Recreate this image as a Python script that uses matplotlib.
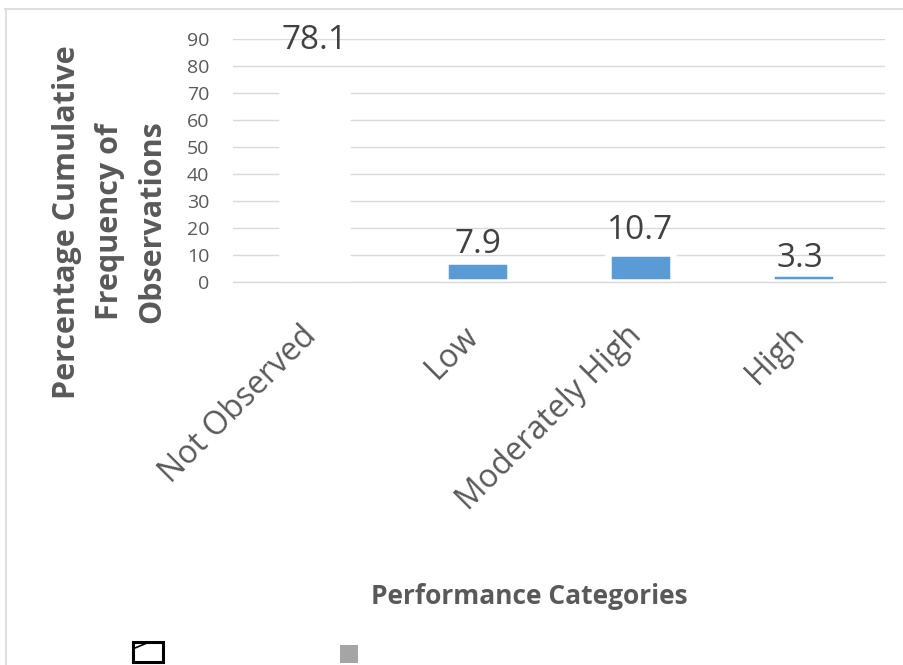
import matplotlib
matplotlib.use("Agg")
import matplotlib.pyplot as plt
from matplotlib.patches import Rectangle
from matplotlib.lines import Line2D
from matplotlib.transforms import ScaledTranslation

# data
categories = ["Not Observed", "Low", "Moderately High", "High"]
percentages = [78.1, 7.9, 10.7, 3.3]
y_ticks = [0, 10, 20, 30, 40, 50, 60, 70, 80, 90]

W, H = 904, 665
plt.rcParams['font.family'] = ['Open Sans', 'DejaVu Sans']

fig = plt.figure(figsize=(W / 100, H / 100), dpi=100)
fig.patch.set_facecolor('white')


def fx(px):
    return px / W


def fy(py):
    return 1 - py / H


# plot area
ax = fig.add_axes([fx(233), fy(282), fx(885) - fx(233), fy(39) - fy(282)])
ax.set_facecolor('white')
ax.set_axisbelow(True)

# first bar is white in the original, the rest blue; white edges make them look inset
bar_colors = ['white', '#5B9BD5', '#5B9BD5', '#5B9BD5']
x = list(range(len(categories)))
ax.bar(x, percentages, width=0.4, color=bar_colors, edgecolor='white',
       linewidth=4.7, zorder=1)

# data labels (offsets in pixels, as placed in the source chart)
label_offsets = [(0, 22), (0, 8), (0, 14), (-3, 6)]
for xi, v, off in zip(x, percentages, label_offsets):
    ax.annotate(f"{v}", (xi, v), xytext=off, textcoords='offset pixels',
                ha='center', va='baseline', fontsize=24, color='#404040')

ax.set_xlim(-0.5, 3.5)
ax.set_ylim(0, 90)
ax.set_yticks(y_ticks)
ax.yaxis.grid(True, color='#D9D9D9', linewidth=1.0)
ax.tick_params(axis='y', length=0, pad=17, labelsize=14, labelcolor='#595959')
ax.tick_params(axis='x', length=0, pad=27)

ax.set_xticks(x)
ax.set_xticklabels(categories, rotation=45, ha='right', va='top',
                   fontsize=23, color='#595959')
for lbl in ax.get_xticklabels():
    lbl.set_transform(lbl.get_transform() + ScaledTranslation(6 / 72, 0, fig.dpi_scale_trans))

for side in ['left', 'right', 'top']:
    ax.spines[side].set_visible(False)
ax.spines['bottom'].set_color('#D9D9D9')
ax.spines['bottom'].set_linewidth(1.0)
ax.spines['bottom'].set_zorder(3)

# axis titles
fig.text(fx(110), fy(222), "Percentage Cumulative\nFrequency of\nObservations",
         rotation=90, ha='center', va='center', multialignment='center',
         fontsize=22, fontweight='bold', color='#595959', linespacing=1.55)
fig.text(fx(529), fy(597), "Performance Categories", ha='center', va='center',
         fontsize=19, fontweight='bold', color='#595959')

# chart frame (only top and left edges show)
fig.add_artist(Line2D([fx(5), 1], [fy(9), fy(9)], color='#D9D9D9', linewidth=1.2))
fig.add_artist(Line2D([fx(6), fx(6)], [fy(9), 0], color='#D9D9D9', linewidth=1.2))

# leftover legend markers at the bottom
fig.add_artist(Rectangle((fx(133.5), fy(661.5)), fx(30), (661.5 - 641.5) / H,
                         facecolor='white', edgecolor='black', linewidth=2.2))
fig.add_artist(Line2D([fx(135), fx(147)], [fy(648), fy(643)], color='black', linewidth=1.2))
fig.add_artist(Rectangle((fx(340), fy(663)), fx(18), 18 / H,
                         facecolor='#A5A5A5', edgecolor='none'))

fig.savefig("out.png", dpi=100)
